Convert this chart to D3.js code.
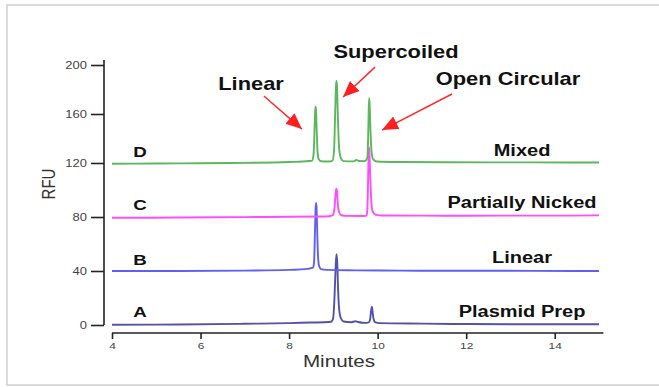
<!DOCTYPE html>
<html>
<head>
<meta charset="utf-8">
<script src="https://cdn.jsdelivr.net/npm/d3@7"></script>
<style>
  body { margin: 0; background: #fff; }
  svg { display: block; font-family: "Liberation Sans", Arial, sans-serif; }
</style>
</head>
<body>
<div id="chart"></div>
<script>
// Trace data: [minutes, RFU]
var traceA = [[4.0,0.2],[5.5,0.4],[7.0,0.9],[8.0,1.4],[8.5,1.8],[8.8,2.0],[8.95,2.4],
  [8.995,5],[9.025,20],[9.05,42],[9.07,52.5],[9.09,45],[9.105,28],[9.13,12],[9.17,5],[9.23,2.6],
  [9.4,2.0],[9.5,2.8],[9.56,2.2],[9.7,1.6],[9.8,2.0],
  [9.83,4],[9.85,10],[9.87,13.5],[9.885,10],[9.905,5],[9.94,2.2],[10.05,1.4],
  [11,1.0],[12,0.7],[13,0.6],[14,0.6],[15,0.6]];

var traceB = [[4.0,40.0],[5.5,40.0],[7.0,40.3],[8.0,40.8],[8.45,41.8],[8.54,42.5],
  [8.565,47],[8.585,70],[8.6,87],[8.61,90.5],[8.62,87],[8.635,70],[8.655,50],[8.68,43.5],[8.72,41.4],[8.85,40.8],
  [9.5,40.5],[10.5,40.3],[11.5,40.2],[12.5,40.2],[13.5,40.1],[14.5,40.0],[15.0,40.0]];

var traceC = [[4.0,79.4],[5.5,79.6],[7.0,79.9],[8.0,80.2],[8.7,80.4],[8.9,80.6],
  [8.98,81.2],[9.02,85],[9.045,95],[9.06,100],[9.07,101],[9.085,98],[9.1,90],[9.125,84],[9.17,81.5],[9.3,80.8],
  [9.65,80.7],[9.74,80.8],[9.765,84],[9.78,100],[9.795,125],[9.805,133],[9.815,128],[9.835,108],[9.86,90],[9.89,84],[9.95,81.8],[10.1,81.1],
  [11,81.0],[12,80.9],[13,81.0],[14,81.0],[15,81.2]];

var traceD = [[4.0,119.5],[5.0,119.6],[6.0,119.8],[7.0,120.1],[8.0,120.8],[8.45,121.6],
  [8.52,122],[8.555,128],[8.575,148],[8.59,163],[8.6,166],[8.61,162],[8.625,145],[8.645,128],[8.67,123],[8.72,121.4],
  [8.9,121.2],[8.98,122],[9.015,130],[9.04,160],[9.058,182],[9.07,187],[9.082,183],[9.1,160],[9.13,132],[9.17,124],[9.23,121.5],
  [9.45,121.3],[9.52,122.5],[9.58,121.6],
  [9.7,121.5],[9.765,124],[9.785,140],[9.8,165],[9.81,173],[9.82,167],[9.84,145],[9.865,128],[9.9,123],[9.98,121.2],
  [10.5,120.8],[11.5,120.6],[12.5,120.5],[13.5,120.5],[14.5,120.4],[15.0,120.4]];

var traces = [traceA, traceB, traceC, traceD];
var traceColors = ["#5252ab", "#5f5ff2", "#ff4cff", "#5cb65c"];
var traceLetters = ["A", "B", "C", "D"];
var traceNames = ["Plasmid Prep", "Linear", "Partially Nicked", "Mixed"];

var xTicks = [4, 6, 8, 10, 12, 14];
var yTicks = [0, 40, 80, 120, 160, 200];

// peak annotations: label and arrow [from, to] in [minutes, RFU]
var peakLabels = ["Linear", "Supercoiled", "Open Circular"];
var peakArrows = [
  [[7.43, 174.7], [8.29, 147.7]],
  [[9.94, 198.3], [9.22, 173.9]],
  [[11.68, 176.3], [10.10, 146.9]]
];

var svgWidth = 659;
var svgHeight = 387;
var stretch = 1.25;

var svg = d3.select("#chart").append("svg")
  .attr("width", svgWidth)
  .attr("height", svgHeight);

// light frame
svg.append("rect")
  .attr("x", 7).attr("y", 5)
  .attr("width", 660).attr("height", 380)
  .attr("fill", "#fff")
  .attr("stroke", "#cfcfcf")
  .attr("stroke-width", 1.5);

var x = d3.scaleLinear().domain([4, 15]).range([112, 599]);
var y = d3.scaleLinear().domain([0, 120, 200]).range([325, 163, 65]);

function stretchedText(px, py, txt, size, weight, anchor, color) {
  return svg.append("text")
    .attr("transform", "translate(" + px + "," + py + ") scale(" + stretch + ",1)")
    .attr("text-anchor", anchor)
    .style("font-size", size + "px")
    .style("font-weight", weight)
    .attr("fill", color)
    .text(txt);
}

// y axis
var yAxis = svg.append("g")
  .attr("transform", "translate(104,0)")
  .call(d3.axisLeft(y).tickValues(yTicks).tickSize(13).tickSizeOuter(0));
yAxis.select(".domain").remove();
yAxis.selectAll(".tick line").attr("stroke", "#222").attr("stroke-width", 1.6);
yAxis.selectAll(".tick text")
  .attr("x", -17 / 1.3)
  .attr("transform", "scale(1.3,1)")
  .attr("fill", "#444")
  .style("font-size", "10px")
  .style("font-family", "Liberation Sans, Arial, sans-serif");
svg.append("line")
  .attr("x1", 104).attr("x2", 104)
  .attr("y1", y(204)).attr("y2", y(0))
  .attr("stroke", "#222").attr("stroke-width", 1.6);

// x axis
var xAxis = svg.append("g")
  .attr("transform", "translate(0,333)")
  .call(d3.axisBottom(x).tickValues(xTicks).tickSize(6).tickSizeOuter(0));
xAxis.select(".domain").remove();
xAxis.selectAll(".tick line").attr("stroke", "#222").attr("stroke-width", 1.6);
xAxis.selectAll(".tick text")
  .attr("transform", "scale(" + stretch + ",1)")
  .attr("fill", "#444")
  .style("font-size", "9.5px")
  .style("font-family", "Liberation Sans, Arial, sans-serif");
svg.append("line")
  .attr("x1", x(4)).attr("x2", x(15.1))
  .attr("y1", 333).attr("y2", 333)
  .attr("stroke", "#222").attr("stroke-width", 1.6);

// traces
var line = d3.line()
  .x(function (d) { return x(d[0]); })
  .y(function (d) { return y(d[1]); })
  .curve(d3.curveMonotoneX);

svg.selectAll(".trace")
  .data(traces)
  .enter()
  .append("path")
  .attr("class", "trace")
  .attr("d", line)
  .attr("fill", "none")
  .attr("stroke", function (d, i) { return traceColors[i]; })
  .attr("stroke-width", 1.9)
  .attr("stroke-linejoin", "round");

// letters on the left, names on the right
var letterY = [316.5, 265, 210, 157];
var nameY = [317, 263, 208, 156];
traceLetters.forEach(function (t, i) {
  stretchedText(140, letterY[i], t, 15, "bold", "middle", "#111");
  stretchedText(522, nameY[i], traceNames[i], 16, "bold", "middle", "#111");
});

// axis titles
stretchedText(339, 367, "Minutes", 16.5, "normal", "middle", "#333");
svg.append("text")
  .attr("transform", "translate(55,184) rotate(-90) scale(1,1.25)")
  .attr("text-anchor", "middle")
  .style("font-size", "15px")
  .attr("fill", "#333")
  .text("RFU");

// peak annotations
svg.append("defs").append("marker")
  .attr("id", "head")
  .attr("markerUnits", "userSpaceOnUse")
  .attr("viewBox", "0 0 16 14")
  .attr("refX", 16).attr("refY", 7)
  .attr("markerWidth", 16).attr("markerHeight", 14)
  .attr("orient", "auto")
  .append("path")
  .attr("d", "M0,0 L16,7 L0,14 Z")
  .attr("fill", "#ff1f1f");

svg.selectAll(".arrow")
  .data(peakArrows)
  .enter()
  .append("line")
  .attr("class", "arrow")
  .attr("x1", function (d) { return x(d[0][0]); })
  .attr("y1", function (d) { return y(d[0][1]); })
  .attr("x2", function (d) { return x(d[1][0]); })
  .attr("y2", function (d) { return y(d[1][1]); })
  .attr("stroke", "#ff2a2a")
  .attr("stroke-width", 1.5)
  .attr("marker-end", "url(#head)");

var peakLabelPos = [[251, 90], [396, 58], [508, 85]];
peakLabels.forEach(function (t, i) {
  stretchedText(peakLabelPos[i][0], peakLabelPos[i][1], t, 17.5, "bold", "middle", "#111");
});
</script>
</body>
</html>
